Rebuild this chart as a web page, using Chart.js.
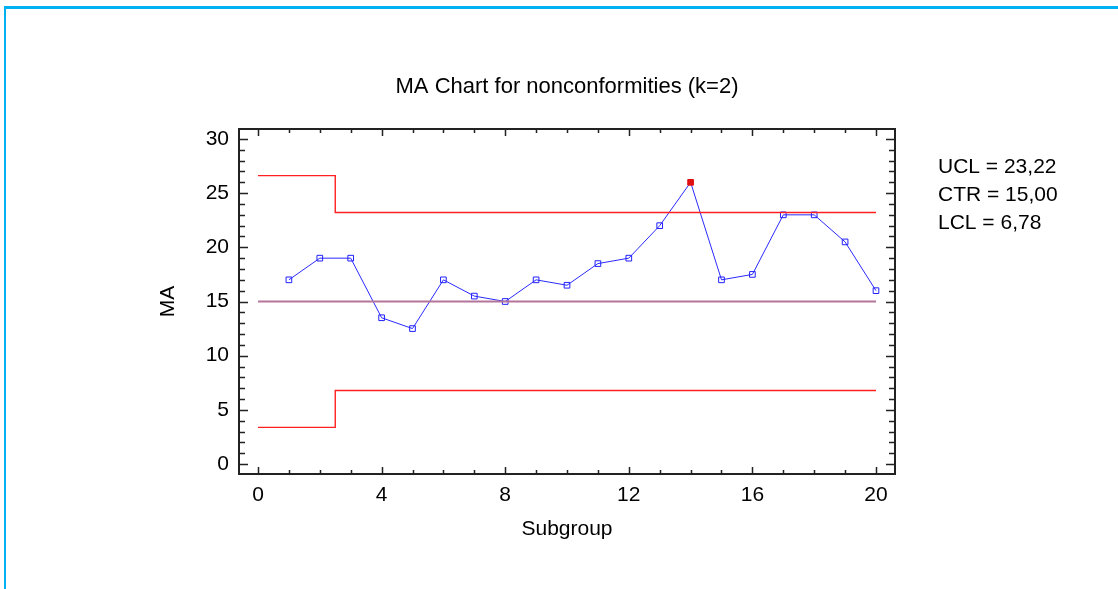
<!DOCTYPE html>
<html>
<head>
<meta charset="utf-8">
<title>MA Chart for nonconformities</title>
<script src="https://cdn.jsdelivr.net/npm/chart.js@4.4.1/dist/chart.umd.min.js"></script>
<style>
  html, body { margin: 0; padding: 0; background: #fff; }
  #chart-container { width: 1118px; height: 589px; position: relative; }
</style>
</head>
<body>
<div id="chart-container"><canvas id="myChart" width="1118" height="589"></canvas></div>
<script>
//--------------------- Data

//Moving averages for each subgroup
var subgroups = [1, 2, 3, 4, 5, 6, 7, 8, 9, 10, 11, 12, 13, 14, 15, 16, 17, 18, 19, 20]
var maValues = [17, 19, 19, 13.5, 12.5, 17, 15.5, 15, 17, 16.5, 18.5, 19, 22, 26, 17, 17.5, 23, 23, 20.5, 16]

//Control limits (wider for the first subgroups, before k points are available)
var limitX = [0, 2.5, 2.5, 20]
var uclValues = [26.62, 26.62, 23.22, 23.22]
var lclValues = [3.38, 3.38, 6.78, 6.78]
var ctrX = [0, 20]
var ctrValues = [15, 15]

//Tick labels, title and limit summary
var xTickLabels = [0, 4, 8, 12, 16, 20]
var yTickLabels = [0, 5, 10, 15, 20, 25, 30]
var title = "MA Chart for nonconformities (k=2)"
var limitLabels = ["UCL = 23,22", "CTR = 15,00", "LCL = 6,78"]

var fontFamily = "'Liberation Sans', Arial, sans-serif"

//Points above the UCL get a red filled marker
var pointColors = [], pointFills = []
for (var i = 0; i < maValues.length; i++) {
    var out = maValues[i] > uclValues[uclValues.length - 1]
    pointColors.push(out ? "#e01010" : "#2020ff")
    pointFills.push(out ? "#e01010" : "rgba(255,255,255,0)")
}

function toPoints(xs, ys) {
    var pts = []
    for (var i = 0; i < xs.length; i++) pts.push({ x: xs[i], y: ys[i] })
    return pts
}

//-------------------- Plugins

//Light blue page border
var pageBorder = {
    id: "pageBorder",
    beforeDraw: function (chart) {
        var ctx = chart.ctx
        ctx.save()
        ctx.fillStyle = "#00b0f0"
        ctx.fillRect(4, 6, chart.width - 4, 3)
        ctx.fillRect(4, 6, 2, chart.height - 6)
        ctx.restore()
    }
}

//Plot frame with inward ticks on all four sides, plus title and limit summary
var frameTicks = {
    id: "frameTicks",
    afterDraw: function (chart) {
        var ctx = chart.ctx
        var a = chart.chartArea
        var xs = chart.scales.x
        var ys = chart.scales.y
        ctx.save()
        ctx.strokeStyle = "#222"
        ctx.lineWidth = 1.5
        ctx.beginPath()
        for (var v = 0; v <= 20; v++) {
            var px = Math.round(xs.getPixelForValue(v)) + 0.5
            var len = xTickLabels.indexOf(v) >= 0 ? 7 : 4
            ctx.moveTo(px, a.bottom); ctx.lineTo(px, a.bottom - len)
            ctx.moveTo(px, a.top); ctx.lineTo(px, a.top + len)
        }
        for (var w = 0; w <= 30; w++) {
            var py = Math.round(ys.getPixelForValue(w)) + 0.5
            var len2 = yTickLabels.indexOf(w) >= 0 ? 9 : 6
            ctx.moveTo(a.left, py); ctx.lineTo(a.left + len2, py)
            ctx.moveTo(a.right, py); ctx.lineTo(a.right - len2, py)
        }
        ctx.stroke()
        ctx.lineWidth = 2
        ctx.strokeRect(a.left, a.top, a.right - a.left, a.bottom - a.top)

        ctx.fillStyle = "#000"
        ctx.textBaseline = "middle"

        //Title centred over the plot
        ctx.font = "22px " + fontFamily
        ctx.textAlign = "center"
        ctx.fillText(title, (a.left + a.right) / 2, 87)

        //Limit summary at the right of the plot
        ctx.font = "21px " + fontFamily
        ctx.textAlign = "left"
        for (var k = 0; k < limitLabels.length; k++) {
            ctx.fillText(limitLabels[k], 938, 167.5 + k * 28)
        }
        ctx.restore()
    }
}

//-------------------- Chart

const ctx = document.getElementById("myChart")
const myChart = new Chart(ctx, {
    type: "line",
    data: {
        datasets: [
            {
                data: toPoints(limitX, uclValues),
                borderColor: "#ff2020",
                borderWidth: 1.4,
                pointRadius: 0
            },
            {
                data: toPoints(ctrX, ctrValues),
                borderColor: "#b5749a",
                borderWidth: 2,
                pointRadius: 0
            },
            {
                data: toPoints(limitX, lclValues),
                borderColor: "#ff2020",
                borderWidth: 1.4,
                pointRadius: 0
            },
            {
                data: toPoints(subgroups, maValues),
                borderColor: "#2a2aff",
                borderWidth: 1,
                pointStyle: "rect",
                pointRadius: 4,
                pointBorderWidth: 1,
                pointBorderColor: pointColors,
                pointBackgroundColor: pointFills
            }
        ]
    },
    options: {
        responsive: false,
        animation: false,
        layout: { padding: { left: 150, right: 223, top: 129, bottom: 45 } },
        scales: {
            x: {
                type: "linear",
                min: -0.615,
                max: 20.615,
                afterBuildTicks: function (scale) {
                    scale.ticks = xTickLabels.map(function (v) { return { value: v } })
                },
                afterFit: function (scale) { scale.height = 70 },
                grid: { display: false, drawTicks: false, tickLength: 0 },
                border: { display: false },
                ticks: {
                    autoSkip: false,
                    maxRotation: 0,
                    padding: 9,
                    color: "#000",
                    font: { family: fontFamily, size: 21 }
                },
                title: {
                    display: true,
                    text: "Subgroup",
                    color: "#000",
                    padding: { top: 0, bottom: 2 },
                    font: { family: fontFamily, size: 21 }
                }
            },
            y: {
                type: "linear",
                min: -0.923,
                max: 30.923,
                afterBuildTicks: function (scale) {
                    scale.ticks = yTickLabels.map(function (v) { return { value: v } })
                },
                afterFit: function (scale) { scale.width = 89 },
                grid: { display: false, drawTicks: false, tickLength: 0 },
                border: { display: false },
                ticks: {
                    autoSkip: false,
                    padding: 10,
                    color: "#000",
                    font: { family: fontFamily, size: 21 }
                },
                title: {
                    display: true,
                    text: "MA",
                    color: "#000",
                    padding: { top: 6, bottom: 0 },
                    font: { family: fontFamily, size: 21 }
                }
            }
        },
        plugins: {
            legend: { display: false },
            tooltip: { enabled: false },
            title: { display: false }
        }
    },
    plugins: [pageBorder, frameTicks]
});
</script>
</body>
</html>
